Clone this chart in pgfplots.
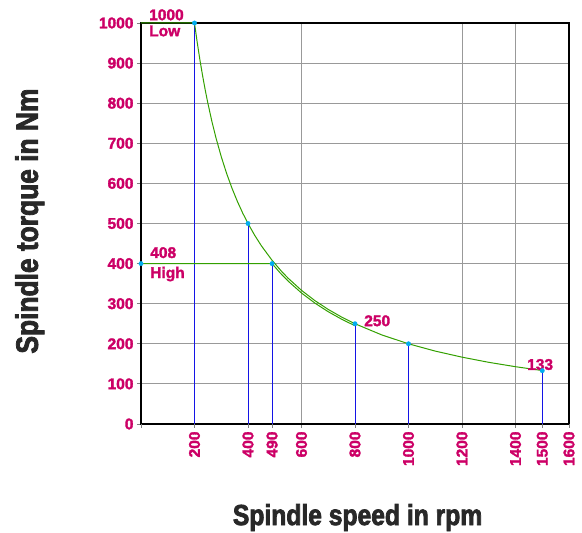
\documentclass[border=0pt]{standalone}
\usepackage{fontspec}
\setmainfont{Liberation Sans}
\newfontfamily\labelfont[FakeStretch=0.85,FakeBold=2.5]{Liberation Sans}
\newfontfamily\tickfont[FakeBold=2]{Liberation Sans}
\usepackage{pgfplots}
\pgfplotsset{compat=1.18}
\definecolor{tickmag}{RGB}{204,0,102}
\definecolor{curvegreen}{RGB}{51,160,0}
\definecolor{stemblue}{RGB}{20,20,230}
\definecolor{labgray}{RGB}{40,40,40}
\begin{document}
\begin{tikzpicture}
\useasboundingbox (-141pt,-109pt) rectangle (441pt,424pt);
\begin{axis}[
  at={(0,0)}, anchor=south west,
  width=428pt, height=401pt, scale only axis,
  xmin=0, xmax=1600, ymin=0, ymax=1000,
  clip=false,
  axis line style={black, line width=1.2pt},
  xtick={600,1200,1400},
  extra x ticks={0,200,400,490,800,1000,1500,1600},
  extra x tick labels={{},200,400,490,800,1000,1500,1600},
  extra x tick style={grid=none},
  ytick={0,100,...,1000},
  xmajorgrids, ymajorgrids,
  grid style={gray!80, line width=0.9pt},
  tick align=outside, major tick length=4pt,
  tick style={gray, line width=0.8pt},
  xtick pos=bottom, ytick pos=left,
  /pgf/number format/1000 sep={},
  /pgf/number format/assume math mode=true,
  ticklabel style={font=\tickfont\bfseries\fontsize{15.5}{16}\selectfont, text=tickmag},
  xticklabel style={rotate=90, anchor=east},
  xlabel={Spindle speed in rpm},
  ylabel={Spindle torque in Nm},
  every axis x label/.style={at={(axis description cs:0.506,-0.252)}, anchor=base,
    font=\labelfont\bfseries\fontsize{29}{30}\selectfont, text=labgray},
  every axis y label/.style={at={(axis description cs:-0.241,0.506)}, rotate=90, anchor=base,
    font=\labelfont\bfseries\fontsize{31}{32}\selectfont, text=labgray},
]
% stems
\addplot[ycomb, stemblue, line width=0.9pt] coordinates {
  (200,1000) (400,500) (490,400) (800,250) (1000,200) (1500,133)};
% low range
\addplot[curvegreen, line width=1pt] coordinates {
  (0,1000) (200,1000) (210,952.4) (220,909.1) (230,869.6) (240,833.3) (250,800)
  (265,754.7) (280,714.3) (300,666.7) (320,625) (340,588.2) (360,555.6) (380,526.3)
  (400,500) (425,470.6) (450,444.4) (490,408.2) (525,381) (550,363.6) (600,333.3)
  (650,307.7) (700,285.7) (750,266.7) (800,250) (900,222.2) (1000,200) (1100,181.8)
  (1200,166.7) (1300,153.8) (1400,142.9) (1500,133.3)};
% high range
\addplot[curvegreen, line width=1pt] coordinates {
  (0,400) (490,400) (520,376.9) (550,356.4) (600,326.7) (650,301.5) (700,280)
  (750,261.3) (800,245)};
% points
\addplot[only marks, mark=*, mark size=2.2pt, mark options={fill=cyan, draw=cyan}] coordinates {
  (0,400) (200,1000) (400,500) (490,400) (800,250) (1000,200) (1500,133)};
% annotations
\begin{scope}[every node/.style={anchor=base west, inner sep=0pt, text=tickmag,
    font=\tickfont\bfseries\fontsize{15.5}{16}\selectfont}]
\node at (axis cs:30,1007) {1000};
\node at (axis cs:30,967) {Low};
\node at (axis cs:34,414) {408};
\node at (axis cs:34,364) {High};
\node at (axis cs:834,244) {250};
\node at (axis cs:1443,135) {133};
\end{scope}
\end{axis}
\end{tikzpicture}
\end{document}
